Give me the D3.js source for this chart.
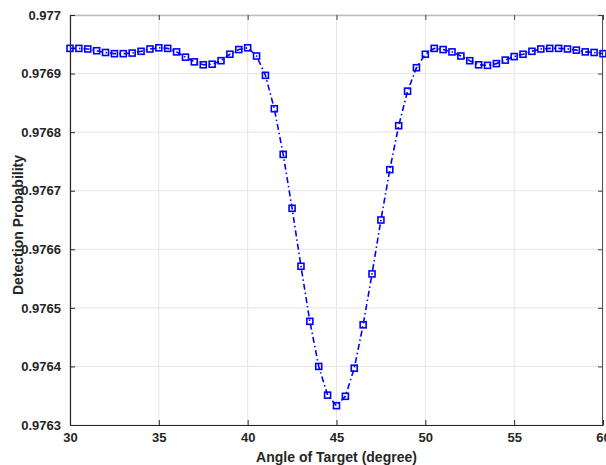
<!DOCTYPE html>
<html>
<head>
<meta charset="utf-8">
<script src="https://cdn.jsdelivr.net/npm/d3@7"></script>
<style>
  body { margin: 0; background: #fff; }
  svg { display: block; }
  text { font-family: "Liberation Sans Narrow", "Liberation Sans", Arial, sans-serif; font-weight: bold; fill: #262626; }
</style>
</head>
<body>
<svg id="chart-svg"></svg>
<script>
// angle of target, degrees (0.5 step)
const angles = [30, 30.5, 31, 31.5, 32, 32.5, 33, 33.5, 34, 34.5, 35, 35.5, 36, 36.5, 37, 37.5, 38, 38.5, 39, 39.5,
  40, 40.5, 41, 41.5, 42, 42.5, 43, 43.5, 44, 44.5, 45, 45.5, 46, 46.5, 47, 47.5, 48, 48.5, 49, 49.5,
  50, 50.5, 51, 51.5, 52, 52.5, 53, 53.5, 54, 54.5, 55, 55.5, 56, 56.5, 57, 57.5, 58, 58.5, 59, 59.5, 60];
const probability = [0.976943, 0.976943, 0.976942, 0.976939, 0.976936, 0.976934, 0.976934, 0.976935, 0.976938, 0.976942,
  0.976944, 0.976943, 0.976937, 0.976928, 0.976920, 0.976915, 0.976916, 0.976922, 0.976933, 0.976941,
  0.976944, 0.976930, 0.976897, 0.976840, 0.976762, 0.976670, 0.976571, 0.976477, 0.976400, 0.976351,
  0.976333, 0.976349, 0.976397, 0.976471, 0.976558, 0.976650, 0.976736, 0.976811, 0.976870, 0.976910,
  0.976933, 0.976943, 0.976941, 0.976937, 0.976930, 0.976922, 0.976915, 0.976914, 0.976917, 0.976923,
  0.976929, 0.976933, 0.976938, 0.976942, 0.976943, 0.976943, 0.976942, 0.976940, 0.976937, 0.976936,
  0.976934];
const xTicks = [30, 35, 40, 45, 50, 55, 60];
const yTicks = [0.9763, 0.9764, 0.9765, 0.9766, 0.9767, 0.9768, 0.9769, 0.977];
const xLabel = "Angle of Target (degree)";
const yLabel = "Detection Probability";

const data = angles.map((a, i) => ({ angle: a, value: probability[i] }));

const W = 606, H = 465;
const margin = { top: 15, right: 3, bottom: 40, left: 70 };
const width = W - margin.left - margin.right,
      height = H - margin.top - margin.bottom;

const svg = d3.select("#chart-svg").attr("width", W).attr("height", H);
const g = svg.append("g").attr("transform", "translate(" + margin.left + "," + margin.top + ")");

const x = d3.scaleLinear().domain([30, 60]).range([0, width]);
const y = d3.scaleLinear().domain([0.9763, 0.977]).range([height, 0]);

// grid
g.selectAll(".xgrid").data(xTicks).enter().append("line")
  .attr("x1", d => x(d)).attr("x2", d => x(d))
  .attr("y1", 0).attr("y2", height)
  .attr("stroke", "#e6e6e6").attr("stroke-width", 1);
g.selectAll(".ygrid").data(yTicks).enter().append("line")
  .attr("x1", 0).attr("x2", width)
  .attr("y1", d => y(d)).attr("y2", d => y(d))
  .attr("stroke", "#e6e6e6").attr("stroke-width", 1);

// box top/right
g.append("line").attr("x1", 0).attr("x2", width).attr("y1", 0.5).attr("y2", 0.5)
  .attr("stroke", "#bdbdbd").attr("stroke-width", 1.5);
g.append("line").attr("x1", width - 0.5).attr("x2", width - 0.5).attr("y1", 0).attr("y2", height)
  .attr("stroke", "#555").attr("stroke-width", 1);

// mirrored ticks on top and right
g.append("g").call(d3.axisTop(x).tickValues(xTicks).tickSizeInner(-5).tickSizeOuter(0).tickFormat(""))
  .call(a => a.select(".domain").remove())
  .call(a => a.selectAll("line").attr("stroke", "#444"));
g.append("g").attr("transform", "translate(" + width + ",0)")
  .call(d3.axisRight(y).tickValues(yTicks).tickSizeInner(-5).tickSizeOuter(0).tickFormat(""))
  .call(a => a.select(".domain").remove())
  .call(a => a.selectAll("line").attr("stroke", "#444"));

// bottom axis
const xa = g.append("g").attr("transform", "translate(0," + height + ")")
  .call(d3.axisBottom(x).tickValues(xTicks).tickSizeInner(-5).tickSizeOuter(0).tickPadding(8));
xa.select(".domain").attr("stroke", "#262626").attr("stroke-width", 1.2);
xa.selectAll("line").attr("stroke", "#262626");
xa.selectAll("text").attr("font-size", 13).attr("font-weight", "bold")
  .attr("font-family", "'Liberation Sans Narrow', 'Liberation Sans', Arial, sans-serif").attr("fill", "#262626");

// left axis
const ya = g.append("g")
  .call(d3.axisLeft(y).tickValues(yTicks).tickSizeInner(-5).tickSizeOuter(0).tickPadding(9)
    .tickFormat(d => String(+d.toFixed(4))));
ya.select(".domain").attr("stroke", "#262626").attr("stroke-width", 1.2);
ya.selectAll("line").attr("stroke", "#262626");
ya.selectAll("text").attr("font-size", 13).attr("font-weight", "bold")
  .attr("font-family", "'Liberation Sans Narrow', 'Liberation Sans', Arial, sans-serif").attr("fill", "#262626");

// axis labels
svg.append("text")
  .attr("x", margin.left + width / 2 + 0).attr("y", 462)
  .attr("text-anchor", "middle").attr("font-size", 14)
  .text(xLabel);
svg.append("text")
  .attr("transform", "translate(23," + (margin.top + height / 2 + 5) + ") rotate(-90)")
  .attr("text-anchor", "middle").attr("font-size", 14)
  .text(yLabel);

// series line
g.append("path")
  .datum(data)
  .attr("fill", "none")
  .attr("stroke", "#0000ff")
  .attr("stroke-width", 1.6)
  .attr("stroke-dasharray", "6,3,1.5,3")
  .attr("d", d3.line().x(d => x(d.angle)).y(d => y(d.value)));

// square markers
const ms = 6;
g.selectAll(".marker").data(data).enter().append("rect")
  .attr("x", d => x(d.angle) - ms / 2)
  .attr("y", d => y(d.value) - ms / 2)
  .attr("width", ms).attr("height", ms)
  .attr("fill", "none")
  .attr("stroke", "#0000ff")
  .attr("stroke-width", 1.6);
</script>
</body>
</html>
